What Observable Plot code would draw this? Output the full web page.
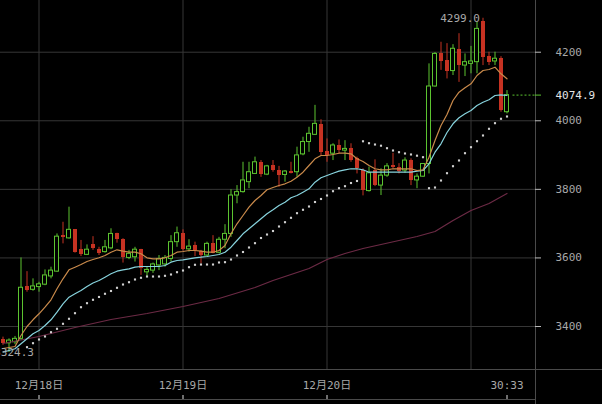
<!DOCTYPE html>
<html><head><meta charset="utf-8">
<script src="https://cdn.jsdelivr.net/npm/d3@7"></script>
<script src="https://cdn.jsdelivr.net/npm/@observablehq/plot@0.6"></script>
<style>html,body{margin:0;padding:0;background:#000;overflow:hidden}</style>
</head><body><div id="chart"></div>
<script>
// Hourly candles, index 0 = 12/17 18:00
const open = [3361,3351,3354,3364,3517,3507,3515,3522,3546,3560,
  3665,3657,3682,3624,3609,3639,3624,3617,3628,3670,
  3653,3600,3602,3624,3558,3563,3578,3581,3597,3646,
  3670,3625,3636,3620,3607,3641,3615,3653,3670,3782,
  3792,3821,3845,3879,3843,3870,3855,3842,3853,3850,
  3902,3938,3959,3989,3910,3904,3928,3913,3918,3889,
  3855,3795,3855,3811,3840,3870,3865,3855,3884,3826,
  3837,3874,4100,4195,4176,4145,4207,4161,4166,4171,
  4290,4187,4173,4181,4025];
const high = [3369,3364,3371,3600,3560,3539,3529,3565,3573,3670,
  3704,3748,3683,3651,3638,3662,3631,3651,3685,3672,
  3656,3622,3631,3625,3573,3585,3607,3607,3665,3690,
  3682,3653,3646,3622,3646,3665,3660,3697,3799,3811,
  3879,3879,3894,3884,3870,3884,3867,3855,3879,3923,
  3952,3981,4045,4003,3947,3933,3944,3942,3933,3894,
  3860,3865,3886,3860,3875,3905,3875,3892,3889,3845,
  3875,4166,4199,4229,4225,4222,4254,4195,4217,4287,
  4299.0,4200,4200,4187,4088];
const low = [3345,3324.3,3347,3359,3500,3503,3500,3519,3539,3558,
  3641,3655,3614,3604,3607,3622,3607,3614,3624,3643,
  3585,3595,3588,3549,3546,3555,3563,3573,3588,3631,
  3620,3617,3604,3583,3604,3612,3612,3627,3660,3758,
  3789,3802,3845,3835,3840,3850,3806,3821,3845,3835,
  3898,3908,3957,3899,3879,3884,3904,3884,3879,3845,
  3781,3792,3808,3782,3835,3860,3845,3847,3811,3802,
  3835,3845,4098,4147,4122,4132,4112,4129,4137,4137,
  4161,4161,4161,4025,4020];
const close = [3350,3359,3364,3513,3505,3517,3523,3549,3563,3662,
  3659,3682,3617,3610,3624,3627,3614,3631,3670,3653,
  3600,3612,3624,3568,3565,3581,3597,3600,3646,3672,
  3624,3633,3622,3607,3641,3614,3653,3670,3782,3792,
  3826,3850,3879,3843,3867,3855,3840,3852,3847,3899,
  3938,3962,3991,3908,3899,3928,3913,3918,3884,3860,
  3797,3847,3811,3840,3867,3865,3852,3884,3826,3837,
  3874,4100,4195,4174,4145,4210,4161,4171,4173,4268,
  4184,4171,4181,4030,4074.9];
const maFast = [3335.9,3338.8,3341.7,3373.8,3400.0,3419.6,3437.1,3456.3,3477.9,3510.0,
  3539.1,3565.4,3573.0,3580.8,3589.6,3595.4,3600.4,3607.1,3616.7,3623.7,
  3619.6,3616.7,3616.7,3612.1,3600.4,3597.5,3597.5,3600.4,3607.1,3616.7,
  3618.8,3621.7,3621.7,3619.6,3616.7,3616.7,3621.7,3636.3,3670.4,3699.5,
  3723.8,3748.0,3767.5,3782.1,3798.7,3805.4,3811.3,3816.2,3823.8,3835.5,
  3850.0,3869.6,3889.1,3898.7,3898.7,3901.7,3905.4,3905.4,3903.7,3889.1,
  3881.2,3869.6,3860.0,3857.0,3857.0,3860.0,3860.0,3860.0,3860.0,3855.0,
  3857.0,3893.8,3942.5,3986.2,4018.3,4059.2,4083.4,4096.2,4107.9,4132.0,
  4146.6,4149.6,4156.3,4137.0,4122.4];
const maMid = [3325.1,3330.0,3335.0,3349.6,3364.2,3378.7,3388.4,3402.9,3419.6,3441.7,
  3466.2,3485.5,3495.4,3505.0,3516.7,3526.9,3534.2,3543.8,3553.7,3561.3,
  3565.4,3568.3,3573.0,3575.0,3575.0,3575.0,3575.0,3577.9,3587.6,3592.5,
  3594.5,3597.5,3600.4,3602.1,3604.2,3607.1,3610.0,3616.7,3631.3,3650.8,
  3670.4,3685.0,3699.5,3714.1,3728.7,3740.4,3752.9,3762.5,3775.4,3782.1,
  3791.7,3801.6,3820.9,3833.7,3840.4,3847.1,3853.0,3857.0,3860.0,3860.0,
  3857.0,3850.0,3850.0,3850.0,3850.0,3850.0,3850.0,3850.0,3850.0,3853.0,
  3855.0,3874.5,3908.4,3932.9,3965.8,3991.2,4008.7,4020.4,4030.0,4044.6,
  4054.2,4061.2,4073.7,4075.8,4073.7];
const maSlowIdx = [0,6,12,18,24,30,36,42,45,48,51,54,57,60,63,66,69,72,75,78,81,84];
const maSlow = [3350.4,3370.9,3397.1,3420.4,3437.9,3458.3,3481.7,3513.8,3534.2,3551.7,3569.2,
  3595.4,3612.9,3627.5,3639.2,3650.8,3662.5,3677.1,3709.2,3738.3,3758.8,3787.9];
const sar = [null,null,null,null,3339.7,3351.3,3362.1,3370.9,3383.4,3393.3,
  3407.9,3422.5,3438.8,3456.3,3468.0,3477.9,3486.1,3495.4,3503.6,3512.9,
  3522.5,3529.2,3537.1,3542.1,3545.8,3545.8,3545.8,3547.9,3551.7,3558.4,
  3563.3,3573.0,3580.0,3580.8,3580.8,3580.8,3586.7,3587.6,3595.4,3607.1,
  3617.3,3630.4,3643.0,3658.1,3668.3,3678.5,3691.7,3704.2,3717.0,3730.5,
  3740.4,3750.0,3763.1,3771.9,3782.1,3794.6,3803.4,3809.2,3818.5,3824.4,
  3940.2,3934.6,3930.8,3927.3,3920.0,3913.3,3908.4,3904.6,3901.7,3898.2,
  3893.8,3803.4,3805.4,3825.8,3847.1,3867.5,3884.2,3905.4,3923.0,3940.4,
  3957.1,3976.6,3993.0,4005.8,4012.5];
const yTicks = [3400,3600,3800,4000,4200];
const xGridIdx = [6,30,54,78];
const xLabelIdx = [6,30,54,84];
const xLabels = ["12月18日","12月19日","12月20日","30:33"];

const GREEN = "#5cc430", RED = "#c63222", GRID = "#363636", AXIS = "#4a4a4a", TXT = "#a8a8a8";
const xDomain = [-2.5/6, 532.5/6];
const yDomain = [3274.6, 4350.8];

const candles = open.map((o, i) => ({i, o, h: high[i], l: low[i], c: close[i]}));
const ups = candles.filter(d => d.c >= d.o);
const downs = candles.filter(d => d.c < d.o);
const sarPts = sar.map((v, i) => ({i, v})).filter(d => d.v != null);
const hiC = d3.greatest(candles, d => d.h);
const loC = d3.least(candles, d => d.l);
const last = candles[candles.length - 1];

const chart = Plot.plot({
  width: 602, height: 404,
  marginTop: 0, marginLeft: 0, marginRight: 67, marginBottom: 35,
  x: {domain: xDomain, axis: null},
  y: {domain: yDomain, axis: null},
  style: {background: "#000", fontFamily: '"DejaVu Sans Mono", "Noto Sans CJK SC", monospace', fontSize: "11px"},
  marks: [
    Plot.ruleY(yTicks, {stroke: GRID}),
    Plot.ruleX(xGridIdx, {stroke: GRID}),
    Plot.ruleX([xDomain[1]], {stroke: AXIS, insetBottom: -35}),
    Plot.ruleY([yDomain[0]], {stroke: AXIS, insetRight: -67}),
    Plot.ruleY([yDomain[0]], {stroke: AXIS, dy: 30}),
    // y axis ticks & labels
    Plot.ruleY(yTicks, {stroke: "#bbb", insetLeft: 535, insetRight: -6}),
    Plot.text(yTicks, {y: d => d, frameAnchor: "right", dx: 20, textAnchor: "start", text: d => String(d), fill: TXT}),
    // x axis ticks & labels
    Plot.ruleX(xLabelIdx, {stroke: "#ddd", insetTop: 395, insetBottom: -30}),
    Plot.text(xLabelIdx, {x: d => d, frameAnchor: "bottom", dy: 16, lineAnchor: "middle", text: (d, i) => xLabels[i], fill: TXT}),
    // candles
    Plot.ruleX(downs, {x: "i", y1: "l", y2: "h", stroke: RED}),
    Plot.rect(downs, {x1: d => d.i - 0.5, x2: d => d.i + 0.5, y1: "o", y2: "c", insetLeft: 1, insetRight: 1, fill: RED, shapeRendering: "crispEdges"}),
    Plot.ruleX(ups, {x: "i", y1: "l", y2: "h", stroke: GREEN}),
    Plot.rect(ups, {x1: d => d.i - 0.5, x2: d => d.i + 0.5, y1: "o", y2: "c", insetLeft: 1, insetRight: 1, fill: "#000", stroke: GREEN}),
    // indicators
    Plot.line(maSlow, {x: maSlowIdx, y: maSlow, stroke: "#6c2a45", strokeWidth: 1.2}),
    Plot.line(maMid, {x: (d, i) => i, y: d => d, stroke: "#87d3dd", strokeWidth: 1.2}),
    Plot.line(maFast, {x: (d, i) => i, y: d => d, stroke: "#c98a4b", strokeWidth: 1.2}),
    Plot.dot(sarPts, {x: "i", y: "v", symbol: "square", r: 1.2, fill: "#cfcfcf", stroke: null}),
    // last price
    Plot.ruleY([last], {y: "c", x1: "i", x2: () => xDomain[1], insetLeft: 6, stroke: GREEN, strokeDasharray: "2,2"}),
    Plot.ruleY([last], {y: "c", stroke: GREEN, insetLeft: 535, insetRight: -6}),
    Plot.text([last], {y: "c", frameAnchor: "right", dx: 20, textAnchor: "start", text: d => d.c.toFixed(1), fill: "#e4e4e4"}),
    // high / low annotations
    Plot.text([hiC], {x: "i", y: "h", text: d => d.h.toFixed(1), textAnchor: "end", dx: -3, fill: TXT}),
    Plot.text([loC], {x: "i", y: "l", text: d => d.l.toFixed(1), textAnchor: "end", dx: 25, fill: TXT})
  ]
});
document.getElementById("chart").appendChild(chart);
</script>
</body></html>
